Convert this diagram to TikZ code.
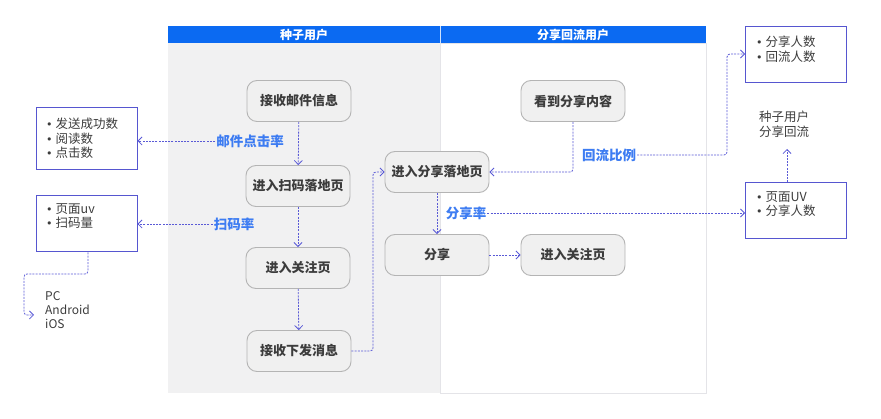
\documentclass[tikz,border=0pt]{standalone}
\usepackage{fontspec}
\setmainfont{Noto Sans CJK SC}
\newfontfamily\bulfont{DejaVu Sans}
\newcommand{\bul}{{\bulfont\fontsize{11}{14}\selectfont •}\hspace{3pt}}
\usetikzlibrary{arrows.meta,positioning}
\definecolor{hdr}{HTML}{0B6AF2}
\definecolor{lanegray}{HTML}{F1F1F2}
\definecolor{lanebd}{HTML}{E4E4E8}
\definecolor{stepfill}{HTML}{F0F0F0}
\definecolor{stepbd}{HTML}{B4B4B4}
\definecolor{steptxt}{HTML}{3C3C3C}
\definecolor{conn}{HTML}{5A5AD6}
\definecolor{lbl}{HTML}{3D7CF2}
\definecolor{boxbd}{HTML}{5656D0}
\tikzset{
  stepbox/.style={draw=stepbd, fill=stepfill, line width=0.9pt, rounded corners=10pt,
    minimum width=104pt, minimum height=41pt, inner sep=0pt,
    font=\fontsize{13}{15}\selectfont\bfseries, text=steptxt},
  infobox/.style={draw=boxbd, fill=white, line width=1pt, minimum width=101pt, inner sep=0pt},
  infotxt/.style={anchor=north west, align=left, inner sep=0pt,
    font=\fontsize{12.5}{14.5}\selectfont, text=steptxt},
  ratelbl/.style={font=\fontsize{13.5}{15}\selectfont\bfseries, text=lbl, inner sep=1pt},
  conline/.style={draw=conn, line width=0.8pt, dash pattern=on 2pt off 1.2pt,
    -{Straight Barb[length=4pt,width=8pt,line width=0.8pt]}},
  hdrtxt/.style={font=\fontsize{12}{14}\selectfont\bfseries, text=white}
}
\begin{document}
\begin{tikzpicture}[x=1pt,y=-1pt]
\useasboundingbox (0,0) rectangle (881,419);
% lanes
\fill[lanegray] (168,43) rectangle (440,393);
\draw[lanebd, fill=white] (440,43) rectangle (706,393);
\fill[hdr] (168,26) rectangle (706,43);
\draw[white!80!hdr, line width=0.6pt] (440,26) -- (440,43);
\node[hdrtxt] (h1) at (304,34.5) {种子用户};
\node[hdrtxt] (h2) at (573,34.5) {分享回流用户};
% steps left lane
\node[stepbox] (a1) at (299,101) {接收邮件信息};
\node[stepbox] (a2) at (298,186) {进入扫码落地页};
\node[stepbox] (a3) at (298,268) {进入关注页};
\node[stepbox] (a4) at (299,351) {接收下发消息};
% steps right lane
\node[stepbox] (b1) at (573,101) {看到分享内容};
\node[stepbox] (b2) at (437,172) {进入分享落地页};
\node[stepbox] (b3) at (437,255) {分享};
\node[stepbox] (b4) at (573,255) {进入关注页};
% info boxes
\node[infobox, minimum height=62pt] (i1) at (86.5,139) {};
\node[infotxt] (t1) at (46,118) {\bul 发送成功数\\\bul 阅读数\\\bul 点击数};
\node[infobox, minimum height=56pt] (i2) at (86.5,224) {};
\node[infotxt] (t2) at (46,203) {\bul 页面uv\\\bul 扫码量};
\node[infotxt, font=\fontsize{12}{14}\selectfont] (t5) at (45,291) {PC\\Android\\iOS};
\node[infobox, minimum height=56pt] (i3) at (796,55) {};
\node[infotxt] (t3) at (756,36) {\bul 分享人数\\\bul 回流人数};
\node[infobox, minimum height=56pt] (i4) at (796,211) {};
\node[infotxt] (t4) at (756,191) {\bul 页面UV\\\bul 分享人数};
\node[anchor=north west, align=left, inner sep=0pt, font=\fontsize{12.5}{15}\selectfont, text=steptxt] (t6) at (759,111) {种子用户\\分享回流};
% labels
\node[ratelbl] (r1) at (250,141) {邮件点击率};
\node[ratelbl] (r2) at (234,224) {扫码率};
\node[ratelbl] (r3) at (609,155) {回流比例};
\node[ratelbl] (r4) at (466,213) {分享率};
% connectors
\draw[conline] (a1) -- (a2);
\draw[conline] (a2) -- (a3);
\draw[conline] (a3) -- (a4);
\draw[conline] (r1.west) -- (i1.east |- r1.west);
\draw[conline] (r2.west) -- (i2.east |- r2.west);
\coordinate (c1) at (34,315);
\draw[conline, rounded corners=3pt] (i2.south -| 88,0) -- (88,274) -- (24,274) -- (24,315) -- (c1);
\draw[conline, rounded corners=3pt] (a4.east) -- (373,351) -- (373,172) -- (b2.west);
\draw[conline, rounded corners=3pt] (b1.south) -- (573,172) -- (b2.east);
\draw[conline, rounded corners=3pt] (r3.east) -- (727,155) -- (727,54) -- (i3.west |- 0,54);
\draw[conline] (b2.south) -- (b3.north);
\draw[conline] (r4.east) -- (i4.west |- r4.east);
\draw[conline] (b3.east) -- (b4.west);
\draw[conline] (i4.north -| 787,0) -- (787,149);
\end{tikzpicture}
\end{document}
